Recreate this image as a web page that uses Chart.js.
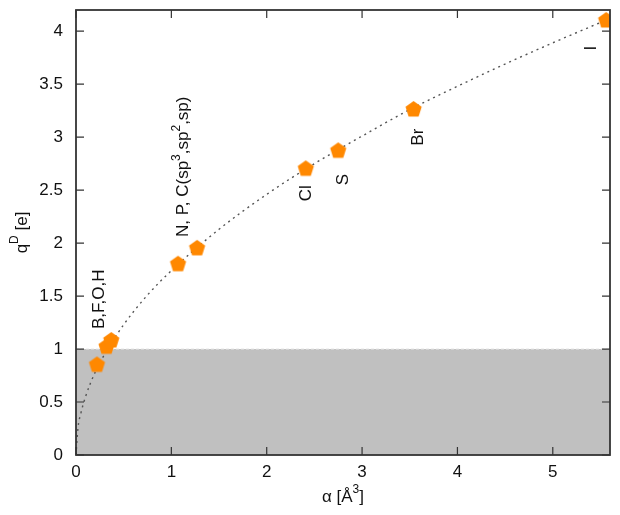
<!DOCTYPE html>
<html>
<head>
<meta charset="utf-8">
<script src="https://cdn.jsdelivr.net/npm/chart.js@4/dist/chart.umd.min.js"></script>
<style>
  html, body { margin: 0; background: #fff; }
  #wrap { width: 620px; height: 515px; }
</style>
</head>
<body>
<div id="wrap"><canvas id="chart"></canvas></div>
<script>
// measured points
const alpha = [0.22, 0.32, 0.37, 1.07, 1.27, 2.41, 2.75, 3.54, 5.56];
const qD = [0.86, 1.03, 1.09, 1.81, 1.96, 2.71, 2.88, 3.27, 4.11];

// dotted fit curve
const fitAlpha = [0, 0.02, 0.05, 0.1, 0.2, 0.3, 0.5, 0.75, 1, 1.5, 2, 2.5, 3, 3.5, 4, 4.5, 5, 5.6];
const fitQ = [0, 0.25, 0.39, 0.55, 0.78, 0.95, 1.23, 1.51, 1.74, 2.13, 2.46, 2.75, 3.01, 3.26, 3.48, 3.69, 3.89, 4.12];

// grey band below q = 1
const shadeLevel = 1;

// element labels (^ marks a superscript char)
const labelText = ['B,F,O,H', 'N, P, C(sp^3,sp^2,sp)', 'Cl', 'S', 'Br', 'I'];
const labelAlpha = [0.24, 1.13, 2.42, 2.80, 3.59, 5.40];
const labelQ = [1.47, 2.72, 2.47, 2.60, 3.00, 3.84];

const xTicks = [0, 1, 2, 3, 4, 5];
const yTicks = [0, 0.5, 1, 1.5, 2, 2.5, 3, 3.5, 4];
const xMax = 5.6;
const yMax = 4.2;

const FONT = '"Liberation Sans", Arial, sans-serif';

function pentagon(r, color) {
  const size = Math.ceil(r * 2 + 2);
  const c = document.createElement('canvas');
  c.width = size; c.height = size;
  const g = c.getContext('2d');
  g.fillStyle = color;
  g.beginPath();
  for (let i = 0; i < 5; i++) {
    const a = -Math.PI / 2 + i * 2 * Math.PI / 5;
    const px = size / 2 + r * Math.cos(a);
    const py = size / 2 + 1 + r * Math.sin(a);
    if (i === 0) g.moveTo(px, py); else g.lineTo(px, py);
  }
  g.closePath();
  g.fill();
  return c;
}

// split "sp^3" style text into runs
function runs(text) {
  const out = [];
  let buf = '';
  for (let i = 0; i < text.length; i++) {
    if (text[i] === '^' && i + 1 < text.length) {
      if (buf) out.push({ t: buf, sup: false });
      buf = '';
      out.push({ t: text[i + 1], sup: true });
      i++;
    } else buf += text[i];
  }
  if (buf) out.push({ t: buf, sup: false });
  return out;
}

function drawRich(ctx, text, size) {
  const parts = runs(text);
  const supSize = Math.round(size * 0.7);
  let w = 0;
  parts.forEach(p => {
    ctx.font = `${p.sup ? supSize : size}px ${FONT}`;
    p.w = ctx.measureText(p.t).width;
    w += p.w;
  });
  let x = -w / 2;
  ctx.textAlign = 'left';
  ctx.textBaseline = 'middle';
  parts.forEach(p => {
    ctx.font = `${p.sup ? supSize : size}px ${FONT}`;
    ctx.fillText(p.t, x, p.sup ? -size * 0.42 : 0);
    x += p.w;
  });
}

const decorations = {
  id: 'decorations',
  afterDatasetsDraw(chart) {
    const { ctx, chartArea: a, scales: { x, y } } = chart;
    ctx.save();
    // frame
    ctx.strokeStyle = '#333';
    ctx.lineWidth = 1.8;
    ctx.strokeRect(a.left, a.top, a.right - a.left, a.bottom - a.top);
    // inward ticks, mirrored
    ctx.lineWidth = 1.2;
    ctx.beginPath();
    xTicks.forEach(v => {
      const px = x.getPixelForValue(v);
      ctx.moveTo(px, a.bottom); ctx.lineTo(px, a.bottom - 8);
      ctx.moveTo(px, a.top); ctx.lineTo(px, a.top + 8);
    });
    yTicks.forEach(v => {
      const py = y.getPixelForValue(v);
      ctx.moveTo(a.left, py); ctx.lineTo(a.left + 8, py);
      ctx.moveTo(a.right, py); ctx.lineTo(a.right - 8, py);
    });
    ctx.stroke();

    // element labels, rotated
    ctx.fillStyle = '#111';
    labelText.forEach((t, i) => {
      ctx.save();
      ctx.translate(x.getPixelForValue(labelAlpha[i]), y.getPixelForValue(labelQ[i]));
      ctx.rotate(-Math.PI / 2);
      drawRich(ctx, t, 17);
      ctx.restore();
    });

    // axis titles
    ctx.save();
    ctx.translate(22, (a.top + a.bottom) / 2);
    ctx.rotate(-Math.PI / 2);
    drawRich(ctx, 'q^D [e]', 17);
    ctx.restore();

    ctx.save();
    ctx.translate((a.left + a.right) / 2, 497);
    drawRich(ctx, 'α [Å^3]', 17);
    ctx.restore();
    ctx.restore();
  }
};

const fixedTicks = list => scale => { scale.ticks = list.map(v => ({ value: v })); };

new Chart(document.getElementById('chart'), {
  type: 'scatter',
  data: {
    datasets: [
      {
        label: 'points',
        data: alpha.map((a, i) => ({ x: a, y: qD[i] })),
        pointStyle: pentagon(8.5, '#ff8800'),
        pointRadius: 9,
        order: 0,
      },
      {
        label: 'fit',
        type: 'line',
        data: fitAlpha.map((a, i) => ({ x: a, y: fitQ[i] })),
        borderColor: '#555',
        borderWidth: 1.4,
        borderDash: [2, 4],
        pointRadius: 0,
        cubicInterpolationMode: 'monotone',
        fill: false,
        order: 1,
      },
      {
        label: 'shade',
        type: 'line',
        data: [{ x: 0, y: shadeLevel }, { x: xMax, y: shadeLevel }],
        borderColor: '#e4e4e4',
        borderWidth: 1,
        borderDash: [3, 2],
        backgroundColor: '#c0c0c0',
        pointRadius: 0,
        fill: 'origin',
        order: 2,
      },
    ],
  },
  options: {
    responsive: true,
    maintainAspectRatio: false,
    animation: false,
    layout: { padding: { top: 4, right: 8, left: 0, bottom: 0 } },
    plugins: { legend: { display: false }, tooltip: { enabled: false } },
    scales: {
      x: {
        type: 'linear', min: 0, max: xMax,
        afterBuildTicks: fixedTicks(xTicks),
        afterFit: s => { s.height = 60; s.paddingLeft = 0; s.paddingRight = 0; },
        grid: { display: false, drawTicks: false },
        border: { display: false },
        ticks: { color: '#111', padding: 7, font: { size: 17, family: FONT }, callback: v => String(v) },
      },
      y: {
        type: 'linear', min: 0, max: yMax,
        afterBuildTicks: fixedTicks(yTicks),
        afterFit: s => { s.width = 76; s.paddingTop = 0; s.paddingBottom = 0; },
        grid: { display: false, drawTicks: false },
        border: { display: false },
        ticks: { color: '#111', padding: 13, font: { size: 17, family: FONT }, callback: v => String(v) },
      },
    },
  },
  plugins: [decorations],
});
</script>
</body>
</html>
